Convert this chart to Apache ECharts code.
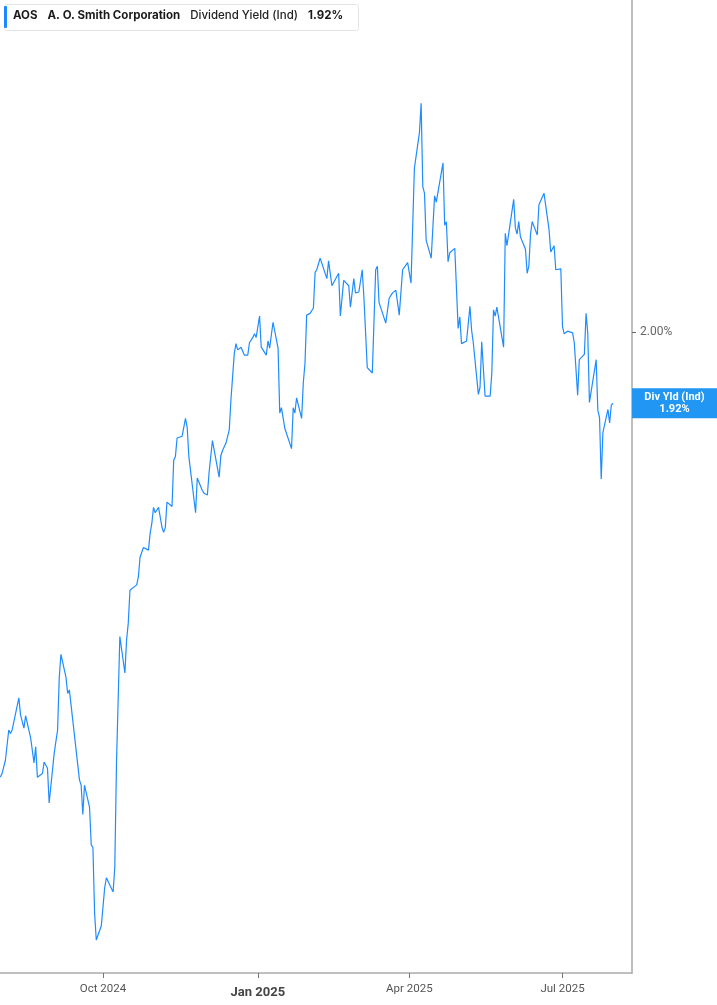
<!DOCTYPE html>
<html><head><meta charset="utf-8">
<script src="https://cdn.jsdelivr.net/npm/echarts@6/dist/echarts.min.js"></script>
<style>html,body{margin:0;padding:0;background:#fff}#chart{width:717px;height:1005px}</style>
</head><body><div id="chart"></div>
<script>
const ticker = 'AOS';
const companyName = 'A. O. Smith Corporation';
const metricName = 'Dividend Yield (Ind)';
const endLabelName = 'Div Yld (Ind)';

const dates = ['2024-08-01','2024-08-02','2024-08-04','2024-08-05','2024-08-06','2024-08-07','2024-08-08','2024-08-12','2024-08-13','2024-08-15','2024-08-16','2024-08-19','2024-08-20','2024-08-21','2024-08-22','2024-08-23','2024-08-26','2024-08-27','2024-08-28','2024-08-29','2024-08-30','2024-09-02','2024-09-04','2024-09-05','2024-09-06','2024-09-09','2024-09-10','2024-09-11','2024-09-17','2024-09-18','2024-09-19','2024-09-20','2024-09-23','2024-09-24','2024-09-25','2024-09-26','2024-09-27','2024-09-30','2024-10-02','2024-10-03','2024-10-04','2024-10-07','2024-10-08','2024-10-09','2024-10-11','2024-10-14','2024-10-15','2024-10-16','2024-10-17','2024-10-18','2024-10-21','2024-10-22','2024-10-23','2024-10-24','2024-10-25','2024-10-28','2024-10-29','2024-10-30','2024-10-31','2024-11-01','2024-11-03','2024-11-05','2024-11-06','2024-11-07','2024-11-08','2024-11-11','2024-11-12','2024-11-13','2024-11-14','2024-11-15','2024-11-17','2024-11-19','2024-11-20','2024-11-21','2024-11-25','2024-11-26','2024-11-29','2024-11-30','2024-12-02','2024-12-03','2024-12-05','2024-12-09','2024-12-10','2024-12-11','2024-12-13','2024-12-15','2024-12-16','2024-12-18','2024-12-19','2024-12-20','2024-12-22','2024-12-24','2024-12-26','2024-12-27','2024-12-29','2024-12-30','2024-12-31','2025-01-02','2025-01-03','2025-01-06','2025-01-07','2025-01-08','2025-01-10','2025-01-13','2025-01-14','2025-01-15','2025-01-17','2025-01-21','2025-01-22','2025-01-23','2025-01-24','2025-01-27','2025-01-28','2025-01-29','2025-01-30','2025-02-01','2025-02-03','2025-02-04','2025-02-05','2025-02-07','2025-02-11','2025-02-12','2025-02-14','2025-02-18','2025-02-19','2025-02-21','2025-02-22','2025-02-24','2025-02-25','2025-02-27','2025-02-28','2025-03-02','2025-03-04','2025-03-05','2025-03-07','2025-03-10','2025-03-12','2025-03-13','2025-03-14','2025-03-18','2025-03-19','2025-03-20','2025-03-22','2025-03-24','2025-03-26','2025-03-28','2025-03-31','2025-04-02','2025-04-04','2025-04-07','2025-04-08','2025-04-09','2025-04-10','2025-04-11','2025-04-14','2025-04-16','2025-04-17','2025-04-21','2025-04-22','2025-04-23','2025-04-24','2025-04-25','2025-04-28','2025-04-30','2025-05-01','2025-05-02','2025-05-05','2025-05-07','2025-05-08','2025-05-09','2025-05-12','2025-05-13','2025-05-14','2025-05-16','2025-05-19','2025-05-20','2025-05-21','2025-05-22','2025-05-23','2025-05-27','2025-05-28','2025-05-29','2025-06-02','2025-06-03','2025-06-04','2025-06-05','2025-06-06','2025-06-09','2025-06-10','2025-06-11','2025-06-12','2025-06-13','2025-06-16','2025-06-17','2025-06-20','2025-06-23','2025-06-24','2025-06-25','2025-06-26','2025-06-27','2025-06-30','2025-07-01','2025-07-02','2025-07-04','2025-07-07','2025-07-08','2025-07-10','2025-07-11','2025-07-14','2025-07-15','2025-07-16','2025-07-17','2025-07-21','2025-07-22','2025-07-23','2025-07-24','2025-07-25','2025-07-28','2025-07-29','2025-07-30','2025-07-31'];

const yieldValues = [1.500,1.504,1.519,1.521,1.553,1.549,1.553,1.589,1.570,1.555,
1.569,1.544,1.542,1.516,1.534,1.500,1.504,1.517,1.516,1.510,
1.471,1.527,1.553,1.612,1.638,1.612,1.594,1.598,1.497,1.491,
1.458,1.491,1.466,1.424,1.421,1.347,1.317,1.333,1.376,1.387,
1.387,1.371,1.399,1.516,
1.658,1.617,1.654,1.673,1.710,1.711,1.716,1.725,1.747,1.747,
1.758,1.755,1.774,1.785,1.803,1.797,1.803,1.781,1.775,1.780,
1.809,1.804,1.856,1.860,1.881,1.882,1.883,1.903,1.893,1.860,
1.797,1.836,1.822,1.819,1.817,1.842,1.878,1.837,1.861,1.867,
1.875,1.890,1.924,1.976,1.987,1.980,1.983,1.974,1.974,1.988,
1.994,1.998,1.994,2.018,1.983,1.974,1.990,1.982,2.011,1.982,
1.909,1.915,1.892,1.869,1.915,1.909,1.926,1.903,1.943,1.965,
2.019,2.021,2.027,2.067,2.070,2.083,2.060,2.080,2.052,2.066,
2.018,2.058,2.056,2.052,2.028,2.060,2.044,2.045,2.070,2.039,
1.960,1.954,2.070,2.074,2.033,2.010,2.011,2.038,2.044,2.047,
2.019,2.070,2.078,2.055,2.184,2.224,2.257,2.163,2.156,2.103,
2.083,2.153,2.146,2.190,2.120,2.124,2.079,2.089,2.094,2.004,
2.017,1.987,1.990,2.029,2.002,1.988,1.930,1.938,1.989,1.928,
1.928,1.954,2.025,2.018,2.028,1.983,2.111,2.097,2.149,2.117,
2.110,2.124,2.107,2.093,2.066,2.074,2.110,2.124,2.109,2.143,
2.156,2.115,2.090,2.088,2.097,2.070,2.071,2.006,1.998,2.001,
1.999,1.988,1.929,1.969,1.975,2.021,1.999,1.921,1.969,1.912,
1.904,1.835,1.887,1.913,1.898,1.918,1.920];

const xTickDates = ['2024-10-01','2025-01-01','2025-04-01','2025-07-01'];
const yTickValues = [2.00];
const monthNames = ['Jan','Feb','Mar','Apr','May','Jun','Jul','Aug','Sep','Oct','Nov','Dec'];

const FONT = 'Roboto, "Noto Sans", sans-serif';
const LEGEND_FONT = 'Inter, Roboto, sans-serif';
const lineColor = '#1e8cff';
const lastValue = yieldValues[yieldValues.length - 1];
const lastText = lastValue.toFixed(2) + '%';

function localTs(s) { const p = s.split('-').map(Number); return new Date(p[0], p[1]-1, p[2]).getTime(); }
const xTicks = xTickDates.map(localTs);

const chart = echarts.init(document.getElementById('chart'), null, {renderer: 'canvas'});
chart.setOption({
  animation: false,
  backgroundColor: '#fff',
  textStyle: {fontFamily: FONT},
  grid: {left: 0, right: 85, top: 0, bottom: 32, containLabel: false},
  xAxis: {
    type: 'value',
    min: new Date(2024, 6, 31, 19, 0).getTime(),
    max: new Date(2025, 7, 11, 7, 0).getTime(),
    axisLine: {show: true, onZero: false, lineStyle: {color: '#aaa', width: 1.5}},
    axisTick: {show: true, customValues: xTicks, length: 5, lineStyle: {color: '#777'}},
    axisLabel: {
      customValues: xTicks,
      color: '#555', fontSize: 11.5, fontFamily: FONT, margin: 10,
      formatter: function (val) {
        const d = new Date(val);
        const m = d.getMonth();
        const t = monthNames[m] + ' ' + d.getFullYear();
        return m === 0 ? '{b|' + t + '}' : t;
      },
      rich: {b: {fontWeight: 'bold', fontSize: 13, color: '#444', fontFamily: FONT, padding: [3, 0, 0, 0]}}
    },
    splitLine: {show: false}
  },
  yAxis: {
    type: 'value',
    position: 'right',
    min: 1.28,
    max: 2.373,
    axisLine: {show: true, lineStyle: {color: '#aaa', width: 1.5}},
    axisTick: {show: true, customValues: yTickValues, length: 4, lineStyle: {color: '#666'}},
    axisLabel: {
      customValues: yTickValues,
      color: '#666', fontSize: 12, fontFamily: FONT, margin: 8,
      formatter: v => v.toFixed(2) + '%'
    },
    splitLine: {show: false}
  },
  series: [{
    type: 'line',
    name: metricName,
    data: dates.map((d, i) => [localTs(d), yieldValues[i]]),
    showSymbol: false,
    symbol: 'none',
    lineStyle: {color: lineColor, width: 1.2},
    itemStyle: {color: lineColor},
    markLine: {
      silent: true,
      symbol: 'none',
      lineStyle: {color: 'transparent', width: 0},
      data: [{yAxis: lastValue}],
      label: {
        show: true,
        position: 'end',
        distance: 0,
        backgroundColor: '#2196f3',
        padding: [3, 0, 3, 0],
        formatter: '{t|' + endLabelName + '}\n{t|' + lastText + '}',
        rich: {t: {width: 85, align: 'center', color: '#fff', fontWeight: 'bold', fontSize: 11, lineHeight: 12, fontFamily: FONT}}
      }
    }
  }],
  graphic: [
    {type: 'rect', left: 4, top: 4, shape: {width: 354, height: 26, r: 2}, style: {fill: '#fff', stroke: '#e4e4e4', lineWidth: 1}, z: 10},
    {type: 'rect', left: 4, top: 6, shape: {width: 3, height: 22, r: 1}, style: {fill: '#1e88ff'}, z: 11},
    {type: 'text', left: 13, top: 10, z: 11, style: {
      text: '{b|' + ticker + '}{g|}{b|' + companyName + '}{g|}{n|' + metricName + '}{g|}{b|' + lastText + '}',
      rich: {
        b: {fontWeight: 'bold', fontSize: 11.5, fill: '#1a1a1a', fontFamily: LEGEND_FONT, lineHeight: 14},
        n: {fontWeight: 500, fontSize: 11.5, fill: '#222', fontFamily: LEGEND_FONT, lineHeight: 14},
        g: {width: 10}
      }
    }}
  ]
});
</script>
</body></html>
